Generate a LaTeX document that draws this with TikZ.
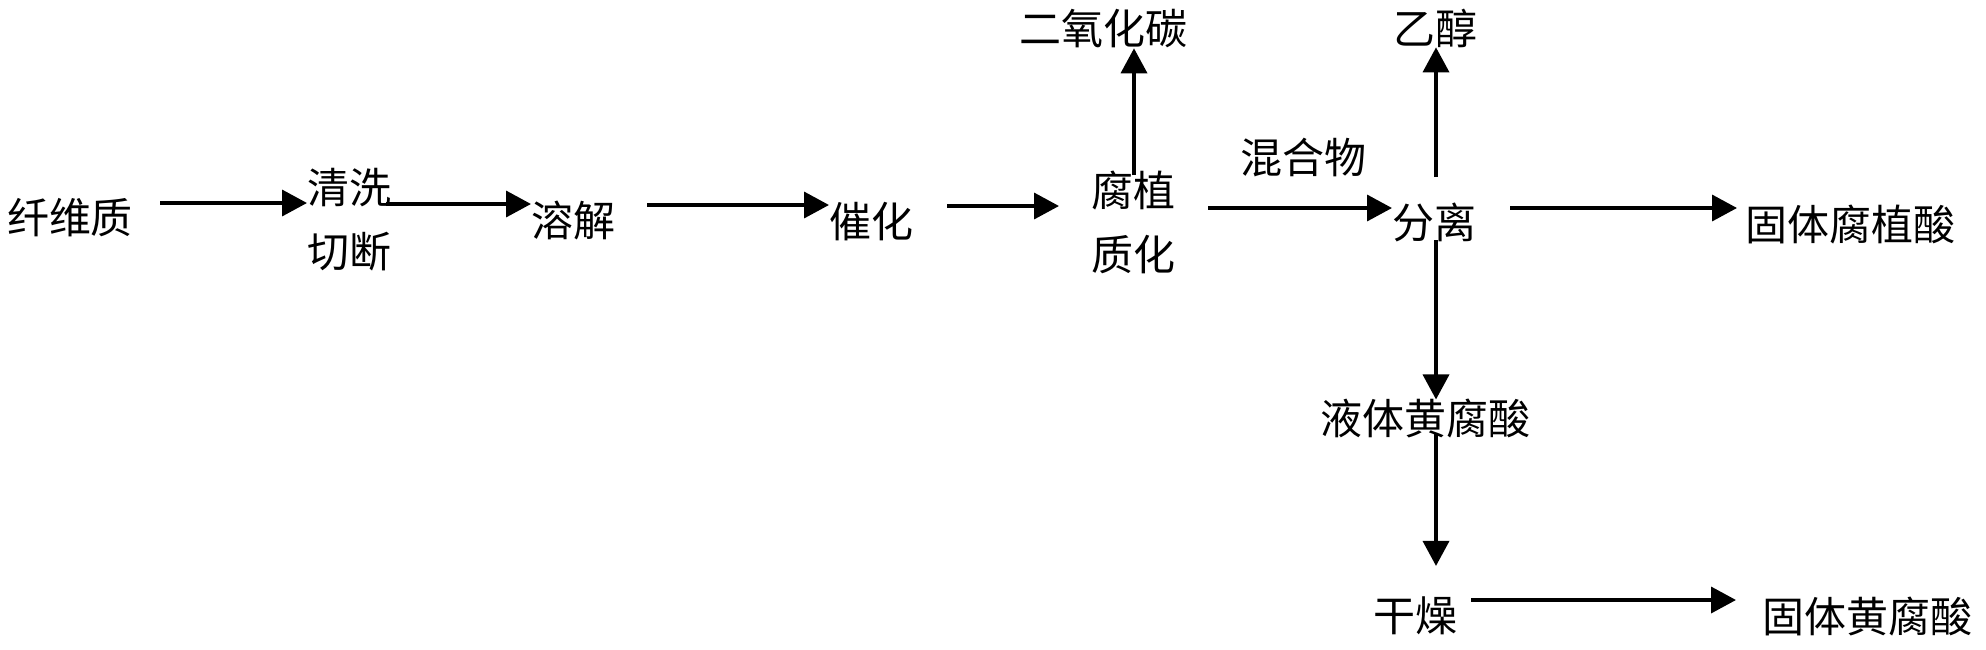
\documentclass[tikz,border=0pt]{standalone}
\usepackage{fontspec}
\newfontfamily\cjk{Noto Sans CJK SC}
\usetikzlibrary{arrows.meta}
\tikzset{
  lbl/.style={inner sep=0pt, outer sep=0pt, anchor=center, align=center,
    font=\cjk\fontsize{21pt}{32pt}\selectfont},
  arr/.style={line width=1.8pt, -{Triangle[length=12.5pt,width=13pt]}}
}
\begin{document}
\begin{tikzpicture}[x=0.5pt,y=-0.5pt]
\useasboundingbox (0,0) rectangle (1986,649);
% nodes
\node[lbl] (fiber) at (70,218) {纤维质};
\node[lbl] (clean) at (349,220) {清洗\\切断};
\node[lbl] (dissolve) at (573,220) {溶解};
\node[lbl] (catal) at (871,222) {催化};
\node[lbl] (humif) at (1133,222) {腐植\\质化};
\node[lbl] (co2) at (1103,29) {二氧化碳};
\node[lbl] (mix) at (1303,158) {混合物};
\node[lbl] (sep) at (1434,222) {分离};
\node[lbl] (eth) at (1435,28) {乙醇};
\node[lbl] (sha) at (1850,225) {固体腐植酸};
\node[lbl] (lfa) at (1425,419) {液体黄腐酸};
\node[lbl] (dry) at (1415,616) {干燥};
\node[lbl] (sfa) at (1867,617) {固体黄腐酸};
% connectors
\draw[arr] (fiber) ++(90,-15) coordinate (a1) -- (a1 -| clean.west);
\draw[arr] (clean) ++(37,-16) coordinate (a2) -- (a2 -| dissolve.west);
\draw[arr] (dissolve) ++(74,-15) coordinate (a3) -- (a3 -| catal.west);
\draw[arr, shorten >=16pt] (catal) ++(76,-16) coordinate (a4) -- (a4 -| humif.west);
\draw[arr] (humif) ++(75,-14) coordinate (a5) -- (a5 -| sep.west);
\draw[arr, shorten >=4pt] (sep) ++(76,-14) coordinate (a6) -- (a6 -| sha.west);
\draw[arr] (humif) ++(1,-47) coordinate (a7) -- (a7 |- co2.south);
\draw[arr] (sep) ++(2,-45) coordinate (a8) -- (a8 |- eth.south);
\draw[arr] (sep) ++(2,18) coordinate (a9) -- (a9 |- lfa.north);
\draw[arr, shorten >=15.5pt] (lfa) ++(11,15) coordinate (a10) -- (a10 |- dry.north);
\draw[arr, shorten >=13pt] (dry) ++(56,-16) coordinate (a11) -- (a11 -| sfa.west);
\end{tikzpicture}
\end{document}
